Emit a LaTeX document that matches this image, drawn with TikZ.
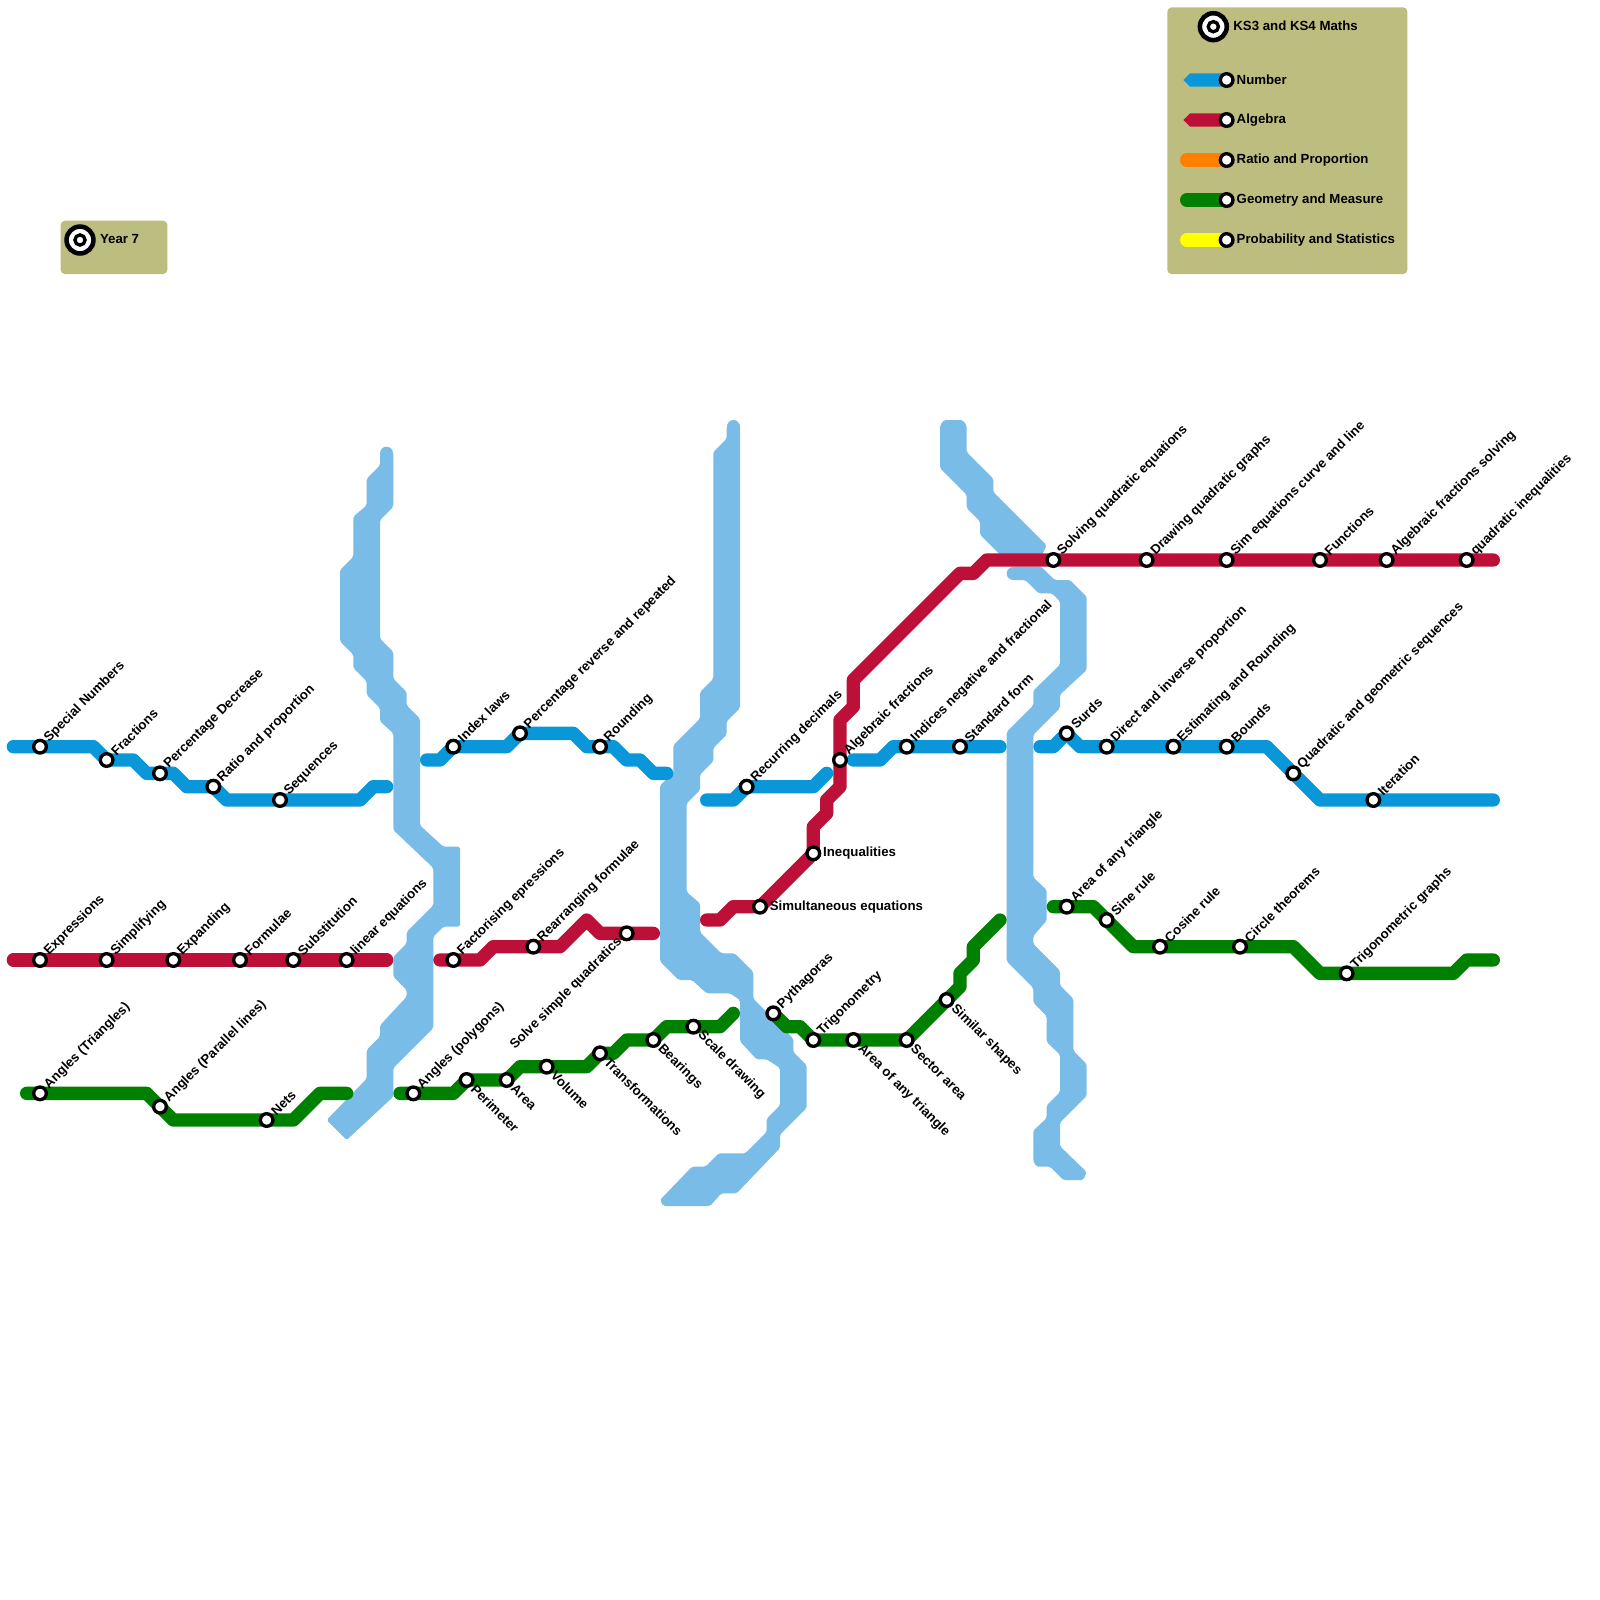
\documentclass[tikz,border=0pt]{standalone}
\usepackage{fontspec}
\setmainfont{Liberation Sans}
\definecolor{cblue}{HTML}{0A97D9}
\definecolor{cred}{HTML}{BC1038}
\definecolor{corange}{HTML}{FF8000}
\definecolor{cgreen}{HTML}{008000}
\definecolor{cyellow}{HTML}{FFFF00}
\definecolor{criver}{HTML}{7ABCE8}
\definecolor{cbox}{HTML}{BDBD7F}
\newcommand{\fs}{\fontsize{3.77}{4.5}\selectfont\bfseries}
\tikzset{
  tube/.style={line width=3.79pt,line cap=round,line join=round},
  number/.style={tube,draw=cblue},
  algebra/.style={tube,draw=cred},
  ratio/.style={tube,draw=corange},
  geometry/.style={tube,draw=cgreen},
  prob/.style={tube,draw=cyellow},
  river/.style={fill=criver,line join=round,rounded corners=.5pt},
  rivercap/.style={draw=criver,line width=3.79pt,line cap=round},
  stationnode/.style={circle,draw=black,fill=white,line width=.95pt,minimum size=3.6pt,inner sep=0pt,outer sep=0pt},
  bigouter/.style={circle,draw=black,fill=white,line width=1.3pt,minimum size=7.65pt,inner sep=0pt,outer sep=0pt},
  biginner/.style={circle,draw=black,fill=white,line width=.95pt,minimum size=2.9pt,inner sep=0pt,outer sep=0pt},
  labne/.style={font=\fs,inner sep=0pt,anchor=west,rotate=45,xshift=2.5pt},
  labse/.style={font=\fs,inner sep=0pt,anchor=west,rotate=-45,xshift=2.5pt},
  labsw/.style={font=\fs,inner sep=0pt,anchor=east,rotate=45,xshift=-2.5pt},
  labe/.style={font=\fs,inner sep=0pt,anchor=west,xshift=2.6pt,yshift=-.05pt},
  legtext/.style={font=\fs,inner sep=0pt,anchor=west},
  legbox/.style={fill=cbox,rounded corners=1.2pt},
}
\begin{document}
\begin{tikzpicture}[x=0.133333cm,y=-0.133333cm]
\useasboundingbox (0,0) rectangle (120,120);
% legend boxes
\node[legbox,minimum width=2.4cm,minimum height=2.667cm,inner sep=0pt,anchor=north west] (legendbig) at (87.5,0.5) {};
\node[legbox,minimum width=1.0667cm,minimum height=.5333cm,inner sep=0pt,anchor=north west] (legendsmall) at (4.5,16.5) {};
% rivers
\draw[rivercap] (29,34) -- (29,35);
\path[river] (29.5,33.9)--(29.5,38)--(28.5,39)--(28.5,47.9)--(29.5,48.9)--(29.5,50.9)--(30.5,51.9)--(30.5,52.9)--(31.5,53.9)--(31.5,61.9)--(33.25,63.5)--(34.5,63.5)--(34.5,69.5)--(33.25,69.5)--(32.5,70.25)--(32.5,77.1)--(29.5,80.1)--(29.5,82.25)--(26,85.5)--(24.5,84)--(27.5,80.9)--(27.5,78.75)--(28.5,77.75)--(28.5,76.9)--(30.5,74.75)--(30.5,74.25)--(29.5,73.25)--(29.5,71.75)--(30.5,70.75)--(30.5,69.9)--(32.5,67.9)--(32.5,65.1)--(29.5,62.25)--(29.5,55)--(28.5,54.1)--(28.5,53.1)--(27.5,52.1)--(27.5,51.1)--(26.5,50.1)--(26.5,49.1)--(25.5,48.1)--(25.5,42.75)--(26.5,41.75)--(26.5,38.75)--(27.5,37.9)--(27.5,35.9)--(28.5,34.9)--(28.5,33.9)--cycle;
\draw[rivercap] (55,32) -- (55,33);
\path[river] (55.5,32)--(55.5,53.1)--(54.5,54.1)--(54.5,55.1)--(53.5,56.1)--(53.5,57.1)--(52.5,58.1)--(52.5,59.25)--(51.5,60.25)--(51.5,66.9)--(52.5,67.75)--(52.5,69.9)--(54.1,71.5)--(55.1,71.5)--(56.5,72.9)--(56.5,74.9)--(59.5,77.9)--(59.5,78.9)--(60.5,79.9)--(60.5,83.1)--(58.5,85.1)--(58.5,86.1)--(55.25,89.5)--(54.1,89.5)--(53.25,90.45)--(49.75,90.45)--(49.5,90)--(51.9,87.5)--(52.9,87.5)--(53.9,86.5)--(55.9,86.5)--(57.5,84.9)--(57.5,83.9)--(58.5,82.9)--(58.5,80.1)--(57.5,79.45)--(56.75,79.45)--(55.5,78.1)--(55.5,75)--(54.75,74.5)--(53,74.5)--(51.9,73.5)--(50.9,73.5)--(49.5,72.1)--(49.5,58.9)--(50.5,58)--(50.5,55.9)--(52.5,53.9)--(52.5,51.9)--(53.5,50.9)--(53.5,33.9)--(54.5,32.9)--(54.5,32)--cycle;
\path[river] (70.5,31.9)--(70.8,31.5)--(72.2,31.5)--(72.5,31.9)--(72.5,33.9)--(74.5,35.9)--(74.5,36.9)--(78.5,40.9)--(78.25,41.4)--(78,42)--(75.4,42)--(73.5,40.1)--(73.5,39.1)--(72.5,38.1)--(72.5,37.1)--(70.5,35.1)--cycle;
\draw[rivercap] (76,43) -- (77,43);
\path[river] (76,42.5)--(78.1,42.5)--(79.1,43.5)--(80.25,43.5)--(81.5,44.75)--(81.5,50.25)--(79.5,52.1)--(79.5,53.1)--(77.5,55.1)--(77.5,65.8)--(78.5,66.75)--(78.5,69.04)--(77.5,70.2)--(77.5,70.8)--(79.5,72.8)--(79.5,73.9)--(80.5,74.9)--(80.5,78.8)--(81.5,79.8)--(81.5,82.2)--(79.5,84.2)--(79.5,85.96)--(81.5,87.9)--(81.25,88.5)--(79.75,88.5)--(78.75,87.5)--(77.75,87.5)--(77.5,87.1)--(77.5,84.8)--(78.5,83.85)--(78.5,82.9)--(79.5,81.9)--(79.5,79.1)--(78.5,78.15)--(78.5,76.2)--(77.5,75.2)--(77.5,74.1)--(75.5,72.1)--(75.5,54.9)--(77.5,52.9)--(77.5,51.8)--(79.5,49.85)--(79.5,45.1)--(78.9,44.5)--(77.9,44.5)--(76.9,43.5)--(76,43.5)--cycle;
% station positions
\foreach \n/\p in {a1/{3,56},a2/{8,57},a3/{12,58},a4/{16,59},a5/{21,60},a6/{34,56},a7/{39,55},a8/{45,56},a9/{56,59},a10/{68,56},a11/{72,56},a12/{80,55},a13/{83,56},a14/{88,56},a15/{92,56},a16/{97,58},a17/{103,60},
b1/{3,72},b2/{8,72},b3/{13,72},b4/{18,72},b5/{22,72},b6/{26,72},b7/{34,72},b8/{40,71},b9/{47,70},b10/{57,68},b11/{61,64},b12/{63,57},b13/{79,42},b14/{86,42},b15/{92,42},b16/{99,42},b17/{104,42},b18/{110,42},
c1/{3,82},c2/{12,83},c3/{20,84},c4/{31,82},c5/{35,81},c6/{38,81},c7/{41,80},c8/{45,79},c9/{49,78},c10/{52,77},c11/{58,76},c12/{61,78},c13/{64,78},c14/{68,78},c15/{71,75},c16/{80,68},c17/{83,69},c18/{87,71},c19/{93,71},c20/{101,73},
l1/{92,6},l2/{92,9},l3/{92,12},l4/{92,15},l5/{92,18}}
  {\coordinate (\n) at (\p);}
\coordinate (ls3) at (89,12); \coordinate (ls4) at (89,15); \coordinate (ls5) at (89,18);
\coordinate (bigA) at (91,2); \coordinate (bigB) at (6,18);
% number line
\draw[number] (1,56)--(a1)--(7,56)--(a2)--(10,57)--(11,58)--(a3)--(13,58)--(14,59)--(a4)--(17,60)--(a5)--(27,60)--(28,59)--(29,59);
\draw[number] (32,57)--(33,57)--(a6)--(38,56)--(a7)--(43,55)--(44,56)--(a8)--(46,56)--(47,57)--(48,57)--(49,58)--(50,58);
\draw[number] (53,60)--(55,60)--(a9)--(61,59)--(62,58);
\draw[number] (64,57)--(66,57)--(67,56)--(a10)--(a11)--(75,56);
\draw[number] (78,56)--(79,56)--(a12)--(81,56)--(a13)--(a14)--(a15)--(95,56)--(a16)--(99,60)--(a17)--(112,60);
% algebra line
\draw[algebra] (1,72)--(b1)--(b2)--(b3)--(b4)--(b5)--(b6)--(29,72);
\draw[algebra] (33,72)--(b7)--(36,72)--(37,71)--(b8)--(42,71)--(44,69)--(45,70)--(b9)--(49,70);
\draw[algebra] (53,69)--(54,69)--(55,68)--(b10)--(b11)--(61,62)--(62,61)--(62,60)--(63,59)--(b12)--(63,54)--(64,53)--(64,51)--(72,43)--(73,43)--(74,42)--(b13)--(b14)--(b15)--(b16)--(b17)--(b18)--(112,42);
% geometry line
\draw[geometry] (2,82)--(c1)--(11,82)--(c2)--(13,84)--(c3)--(22,84)--(24,82)--(26,82);
\draw[geometry] (30,82)--(c4)--(34,82)--(c5)--(c6)--(39,80)--(c7)--(44,80)--(c8)--(46,79)--(47,78)--(c9)--(50,77)--(c10)--(54,77)--(55,76);
\draw[geometry] (c11)--(59,77)--(60,77)--(c12)--(c13)--(c14)--(c15)--(72,74)--(72,73)--(73,72)--(73,71)--(75,69);
\draw[geometry] (79,68)--(c16)--(82,68)--(c17)--(85,71)--(c18)--(c19)--(97,71)--(99,73)--(c20)--(109,73)--(110,72)--(112,72);
% legend lines
\fill[cblue] (88.75,6)--(89.25,5.5)--(92,5.5)--(92,6.5)--(89.25,6.5)--cycle;
\fill[cred] (88.75,9)--(89.25,8.5)--(92,8.5)--(92,9.5)--(89.25,9.5)--cycle;
\draw[ratio] (ls3)--(l3);
\draw[geometry] (ls4)--(l4);
\draw[prob] (ls5)--(l5);
% stations
\foreach \n in {a1,a2,a3,a4,a5,a6,a7,a8,a9,a10,a11,a12,a13,a14,a15,a16,a17,b1,b2,b3,b4,b5,b6,b7,b8,b9,b10,b11,b12,b13,b14,b15,b16,b17,b18,c1,c2,c3,c4,c5,c6,c7,c8,c9,c10,c11,c12,c13,c14,c15,c16,c17,c18,c19,c20,l1,l2,l3,l4,l5}
  {\node[stationnode] (\n-st) at (\n) {};}
\node[bigouter] (bigA-o) at (bigA) {}; \node[biginner] (bigA-i) at (bigA) {};
\node[bigouter] (bigB-o) at (bigB) {}; \node[biginner] (bigB-i) at (bigB) {};
% labels
\foreach \n/\t in {a1/Special Numbers,a2/Fractions,a3/Percentage Decrease,a4/Ratio and proportion,a5/Sequences,a6/Index laws,a7/Percentage reverse and repeated,a8/Rounding,a9/Recurring decimals,a10/Indices negative and fractional,a11/Standard form,a12/Surds,a13/Direct and inverse proportion,a14/Estimating and Rounding,a15/Bounds,a16/Quadratic and geometric sequences,a17/Iteration,
b1/Expressions,b2/Simplifying,b3/Expanding,b4/Formulae,b5/Substitution,b6/linear equations,b7/Factorising epressions,b8/Rearranging formulae,b12/Algebraic fractions,b13/Solving quadratic equations,b14/Drawing quadratic graphs,b15/Sim equations curve and line,b16/Functions,b17/Algebraic fractions solving,b18/quadratic inequalities,
c1/Angles (Triangles),c2/Angles (Parallel lines),c3/Nets,c4/Angles (polygons),c11/Pythagoras,c12/Trigonometry,c16/Area of any triangle,c17/Sine rule,c18/Cosine rule,c19/Circle theorems,c20/Trigonometric graphs}
  {\node[labne] (\n-lab) at (\n) {\t};}
\foreach \n/\t in {c5/Perimeter,c6/Area,c7/Volume,c8/Transformations,c9/Bearings,c10/Scale drawing,c13/Area of any triangle,c14/Sector area,c15/Similar shapes}
  {\node[labse] (\n-lab) at (\n) {\t};}
\node[labsw] (b9-lab) at (b9) {Solve simple quadratics};
\node[labe] (b10-lab) at (b10) {Simultaneous equations};
\node[labe] (b11-lab) at (b11) {Inequalities};
% legend text
\node[legtext] (kslab) at (92.45,1.95) {KS3 and KS4 Maths};
\node[legtext] (yearlab) at (7.45,17.95) {Year 7};
\node[legtext] (l1-lab) at (92.7,5.97) {Number};
\node[legtext] (l2-lab) at (92.7,8.97) {Algebra};
\node[legtext] (l3-lab) at (92.7,11.97) {Ratio and Proportion};
\node[legtext] (l4-lab) at (92.7,14.97) {Geometry and Measure};
\node[legtext] (l5-lab) at (92.7,17.97) {Probability and Statistics};
\end{tikzpicture}
\end{document}
